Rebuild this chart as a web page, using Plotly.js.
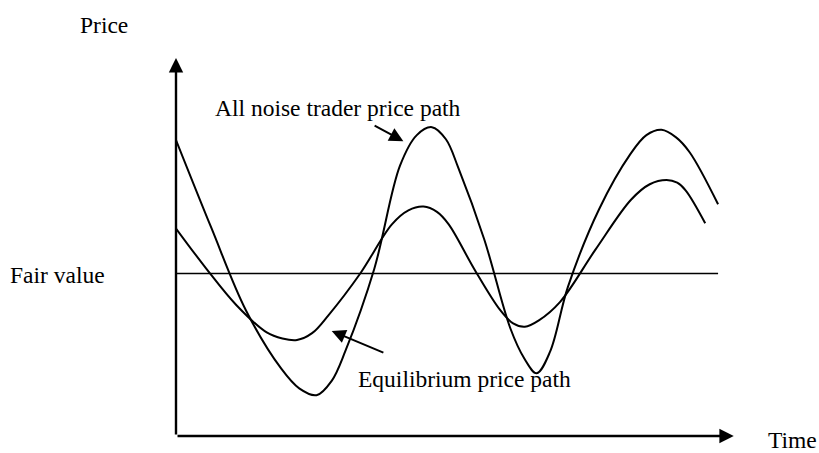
<!DOCTYPE html>
<html>
<head>
<meta charset="utf-8">
<script src="https://cdn.plot.ly/plotly-3.0.1.min.js"></script>
<style>
  html, body { margin: 0; padding: 0; background: #ffffff; }
  #chart { width: 819px; height: 453px; }
</style>
</head>
<body>
<div id="chart"></div>
<script>
// Time (arbitrary units, 0-100) and price (arbitrary units)
const noiseTime  = [0, 6.3, 12.5, 18.8, 22.0, 25.1, 27.8, 30.25, 35.4, 40.0, 43.0, 45.7, 48.2, 50.4, 55.05, 59.7, 62.2, 64.4, 66.8, 70.0, 75.55, 81.1, 84.0, 86.7, 89.3, 91.75, 96.8];
const noisePrice = [78.3, 55.1, 33.2, 17.8, 12.6, 10.8, 14.6, 22.5, 44.2, 71.5, 79.6, 81.7, 78.5, 71.0, 52.0, 28.5, 20.5, 16.6, 22.3, 39.5, 60.0, 74.5, 79.6, 81.0, 79.0, 75.0, 61.3];

const eqTime  = [0, 5.4, 10.8, 16.2, 19.0, 21.6, 24.3, 27.25, 32.9, 38.55, 41.5, 44.2, 46.6, 48.7, 53.25, 57.8, 60.2, 62.3, 64.8, 68.6, 74.9, 81.25, 84.6, 87.6, 89.5, 91.0, 94.5];
const eqPrice = [54.9, 44.3, 34.6, 27.4, 25.8, 25.4, 27.2, 32.0, 43.0, 56.0, 59.7, 60.7, 59.3, 56.0, 44.2, 33.5, 29.8, 28.9, 30.6, 35.5, 49.3, 62.5, 66.6, 67.7, 67.0, 65.0, 56.3];

const fairTime  = [0, 96.8];
const fairPrice = [43.0, 43.0];

const labels = {
  yTitle: "Price",
  xTitle: "Time",
  fair: "Fair value",
  noise: "All noise trader price path",
  eq: "Equilibrium price path"
};

const FONT = { family: '"Liberation Serif", "Times New Roman", Times, serif', size: 23.5, color: '#000000' };

const traces = [
  { x: fairTime, y: fairPrice, mode: 'lines', line: { color: '#000000', width: 1.6 }, hoverinfo: 'skip' },
  { x: noiseTime, y: noisePrice, mode: 'lines', line: { color: '#000000', width: 2, shape: 'spline', smoothing: 1 }, hoverinfo: 'skip' },
  { x: eqTime, y: eqPrice, mode: 'lines', line: { color: '#000000', width: 2, shape: 'spline', smoothing: 1 }, hoverinfo: 'skip' }
];

function arrow(x0, y0, x1, y1, w, s) {
  return { x: x1, y: y1, ax: x0, ay: y0, xref: 'x', yref: 'y', axref: 'x', ayref: 'y',
           showarrow: true, arrowhead: 2, arrowwidth: w, arrowsize: s, arrowcolor: '#000000',
           standoff: 0, startstandoff: 0, text: '' };
}
// labels positioned in paper units (0..1 spans the plotting area)
function label(text, x, y, xanchor) {
  return { text: text, x: x, y: y, xref: 'paper', yref: 'paper', xanchor: xanchor, yanchor: 'middle',
           showarrow: false, font: FONT };
}

const layout = {
  width: 819, height: 453, autosize: false,
  margin: { l: 176, r: 83, t: 58, b: 17 },
  paper_bgcolor: '#ffffff', plot_bgcolor: '#ffffff',
  showlegend: false,
  xaxis: { range: [0, 100], visible: false, showgrid: false, zeroline: false, fixedrange: true },
  yaxis: { range: [0, 100], visible: false, showgrid: false, zeroline: false, fixedrange: true },
  annotations: [
    // axes with arrowheads
    arrow(0, 0, 0, 100, 2.4, 1.2),
    arrow(0, 0, 99.6, 0, 2.4, 1.2),
    // pointer arrows
    arrow(35.2, 82.3, 40.6, 78.0, 2, 1.4),
    arrow(37.3, 21.9, 27.8, 27.8, 2, 1.4),
    // text
    label(labels.yTitle, -0.1286, 1.087, 'center'),
    label(labels.xTitle, 1.053, -0.011, 'left'),
    label(labels.fair, -0.123, 0.426, 'right'),
    label(labels.noise, 0.066, 0.868, 'left'),
    label(labels.eq, 0.321, 0.151, 'left')
  ]
};

Plotly.newPlot('chart', traces, layout, { staticPlot: true, displayModeBar: false });
</script>
</body>
</html>
